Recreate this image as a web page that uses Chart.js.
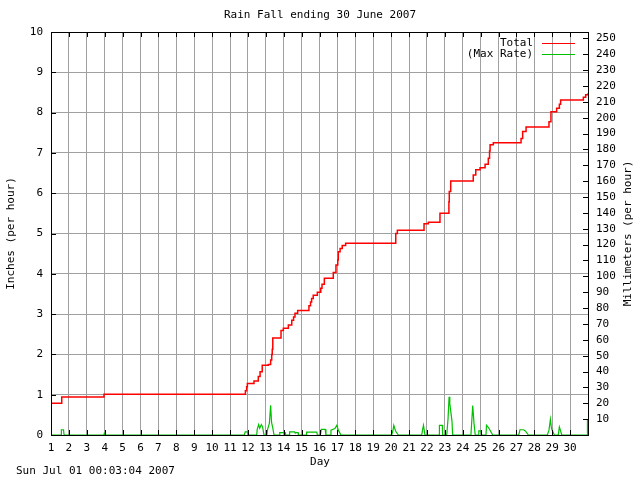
<!DOCTYPE html>
<html>
<head>
<meta charset="utf-8">
<title>Rain Fall</title>
<script src="https://cdn.jsdelivr.net/npm/chart.js@4.4.1/dist/chart.umd.min.js"></script>
<style>
  html, body { margin: 0; padding: 0; background: #fff; }
  #wrap { width: 640px; height: 480px; position: relative; }
</style>
</head>
<body>
<div id="wrap"><canvas id="rainChart"></canvas></div>
<script>
// running total (inches), change points
const totalDays = [1.0, 1.60, 3.96, 11.86, 11.93, 11.97, 12.34, 12.58, 12.68, 12.80, 13.14, 13.27, 13.33, 13.36, 13.39,
  13.85, 13.98, 14.26, 14.45, 14.55, 14.63, 14.78, 15.41, 15.50, 15.56, 15.65, 15.88, 16.07, 16.14, 16.27,
  16.77, 16.92, 17.02, 17.05, 17.15, 17.27, 17.46, 20.26, 20.35, 21.84, 22.08, 22.73, 23.23, 23.25, 23.33,
  24.59, 24.73, 24.97, 25.25, 25.43, 25.50, 25.53, 25.71, 27.26, 27.35, 27.54, 28.82, 28.93, 29.25, 29.40,
  29.47, 30.74, 30.87, 31.0];
const totalInches = [0.79, 0.94, 1.01, 1.10, 1.20, 1.28, 1.34, 1.45, 1.57, 1.73, 1.75, 1.86, 2.00, 2.13, 2.41,
  2.59, 2.65, 2.73, 2.85, 2.93, 3.02, 3.09, 3.21, 3.30, 3.39, 3.47, 3.54, 3.64, 3.74, 3.89,
  4.03, 4.22, 4.34, 4.55, 4.63, 4.70, 4.76, 5.00, 5.08, 5.24, 5.28, 5.50, 5.79, 6.04, 6.30,
  6.45, 6.58, 6.63, 6.72, 6.87, 7.05, 7.20, 7.25, 7.36, 7.53, 7.64, 7.77, 8.02, 8.11, 8.21,
  8.31, 8.38, 8.44, 8.48];

// max rate (inches per hour)
const rateDays = [1.0, 1.56, 1.58, 1.70, 1.73, 3.96, 3.98, 4.02, 4.04, 11.80, 11.85, 11.98, 12.02,
  12.49, 12.52, 12.60, 12.66, 12.75, 12.82, 12.90, 13.06, 13.10, 13.20, 13.27, 13.32, 13.40, 13.46,
  13.75, 13.78, 14.08, 14.10, 14.30, 14.33, 14.60, 14.63, 14.80, 14.82, 15.25, 15.28, 15.85, 15.88,
  16.05, 16.10, 16.32, 16.36, 16.61, 16.64, 16.86, 16.97, 17.05, 17.20,
  20.03, 20.10, 20.15, 20.25, 20.40, 21.71, 21.76, 21.81, 21.89, 22.68, 22.70, 22.86, 22.88,
  23.11, 23.18, 23.24, 23.28, 23.33, 23.40, 23.44, 24.46, 24.49, 24.56, 24.63, 24.70,
  24.87, 24.90, 25.02, 25.06, 25.30, 25.33, 25.45, 25.68, 27.13, 27.20, 27.40, 27.50, 27.67,
  28.73, 28.82, 28.90, 28.96, 29.12, 29.34, 29.40, 29.47, 29.53, 30.95, 30.97, 31.0];
const rateInches = [0, 0, 0.13, 0.13, 0, 0, 0.05, 0.05, 0, 0, 0.08, 0.08, 0,
  0, 0.14, 0.26, 0.17, 0.26, 0.20, 0, 0, 0.14, 0.29, 0.74, 0.32, 0.15, 0,
  0, 0.06, 0.06, 0, 0, 0.08, 0.08, 0.06, 0.06, 0, 0, 0.07, 0.07, 0,
  0, 0.14, 0.14, 0, 0, 0.12, 0.16, 0.24, 0.12, 0,
  0, 0.10, 0.24, 0.10, 0, 0, 0.14, 0.24, 0, 0, 0.24, 0.24, 0,
  0, 0.40, 0.95, 0.78, 0.60, 0.35, 0, 0, 0.22, 0.73, 0.30, 0,
  0, 0.10, 0.10, 0, 0, 0.24, 0.18, 0, 0, 0.13, 0.13, 0.10, 0,
  0, 0.12, 0.39, 0.16, 0, 0, 0.20, 0.10, 0, 0, 0.38, 0.38];

const dayTicks = [1, 2, 3, 4, 5, 6, 7, 8, 9, 10, 11, 12, 13, 14, 15, 16, 17, 18, 19, 20,
  21, 22, 23, 24, 25, 26, 27, 28, 29, 30];
const inchTicks = [0, 1, 2, 3, 4, 5, 6, 7, 8, 9, 10];
const mmTicks = [10, 20, 30, 40, 50, 60, 70, 80, 90, 100, 110, 120, 130, 140, 150, 160, 170, 180,
  190, 200, 210, 220, 230, 240, 250];

const FONT = "'DejaVu Sans Mono', monospace";
const RED = "#ff0000";
const GREEN = "#00c000";

// gnuplot style frame, inward ticks and the texts around the plot
const gnuplotFrame = {
  id: "gnuplotFrame",
  afterDraw(chart) {
    const ctx = chart.ctx;
    const a = chart.chartArea;
    const x = chart.scales.x, y = chart.scales.y, y1 = chart.scales.y1;
    ctx.save();
    ctx.strokeStyle = "#000";
    ctx.lineWidth = 1;
    ctx.beginPath();
    dayTicks.forEach((d) => {
      const px = Math.round(x.getPixelForValue(d)) + 0.5;
      ctx.moveTo(px, a.bottom); ctx.lineTo(px, a.bottom - 5);
      ctx.moveTo(px, a.top); ctx.lineTo(px, a.top + 5);
    });
    inchTicks.forEach((v) => {
      const py = Math.round(y.getPixelForValue(v)) + 0.5;
      ctx.moveTo(a.left, py); ctx.lineTo(a.left + 5, py);
    });
    mmTicks.forEach((v) => {
      const py = Math.round(y1.getPixelForValue(v)) + 0.5;
      ctx.moveTo(a.right, py); ctx.lineTo(a.right - 5, py);
    });
    ctx.stroke();
    ctx.strokeRect(Math.round(a.left) + 0.5, Math.round(a.top) + 0.5,
      Math.round(a.right - a.left), Math.round(a.bottom - a.top));

    ctx.fillStyle = "#000";
    ctx.font = "11px " + FONT;
    ctx.textBaseline = "middle";
    ctx.textAlign = "center";
    ctx.fillText("Rain Fall ending 30 June 2007", 320, 15);
    ctx.fillText("Day", 320, 462);
    ctx.textAlign = "left";
    ctx.fillText("Sun Jul 01 00:03:04 2007", 16, 471);

    ctx.save();
    ctx.translate(11, (a.top + a.bottom) / 2);
    ctx.rotate(-Math.PI / 2);
    ctx.textAlign = "center";
    ctx.fillText("Inches (per hour)", 0, 0);
    ctx.restore();
    ctx.save();
    ctx.translate(628, (a.top + a.bottom) / 2);
    ctx.rotate(-Math.PI / 2);
    ctx.textAlign = "center";
    ctx.fillText("Millimeters (per hour)", 0, 0);
    ctx.restore();

    // key
    const items = [["Total", RED, 43], ["(Max Rate)", GREEN, 54]];
    items.forEach(([label, color, ly]) => {
      ctx.textAlign = "right";
      ctx.fillStyle = "#000";
      ctx.fillText(label, 533, ly);
      ctx.strokeStyle = color;
      ctx.beginPath();
      ctx.moveTo(542, ly + 0.5); ctx.lineTo(575, ly + 0.5);
      ctx.stroke();
    });
    ctx.restore();
  }
};

new Chart(document.getElementById("rainChart"), {
  type: "line",
  data: {
    datasets: [
      {
        label: "Total",
        data: totalDays.map((d, i) => ({ x: d, y: totalInches[i] })),
        borderColor: RED,
        borderWidth: 1.5,
        pointRadius: 0,
        stepped: "before",
        yAxisID: "y",
      },
      {
        label: "(Max Rate)",
        data: rateDays.map((d, i) => ({ x: d, y: rateInches[i] })),
        borderColor: GREEN,
        borderWidth: 1.2,
        pointRadius: 0,
        tension: 0,
        yAxisID: "y",
      },
    ],
  },
  options: {
    responsive: true,
    maintainAspectRatio: false,
    animation: false,
    layout: { padding: { top: 32, left: 0, right: 0, bottom: 0 } },
    plugins: {
      legend: { display: false },
      title: { display: false },
      tooltip: { enabled: false },
    },
    scales: {
      x: {
        type: "linear",
        min: 1,
        max: 31,
        afterBuildTicks: (s) => { s.ticks = dayTicks.map((v) => ({ value: v })); },
        afterFit: (s) => { s.height = 45; },
        grid: { color: "#a0a0a0", lineWidth: 1, drawTicks: false },
        border: { display: false },
        ticks: {
          color: "#000",
          font: { family: FONT, size: 11 },
          padding: 7,
          maxRotation: 0,
          autoSkip: false,
        },
      },
      y: {
        position: "left",
        min: 0,
        max: 10,
        afterBuildTicks: (s) => { s.ticks = inchTicks.map((v) => ({ value: v })); },
        afterFit: (s) => { s.width = 51; },
        grid: { color: "#a0a0a0", lineWidth: 1, drawTicks: false },
        border: { display: false },
        ticks: {
          color: "#000",
          font: { family: FONT, size: 11 },
          padding: 8,
          autoSkip: false,
        },
      },
      y1: {
        position: "right",
        min: 0,
        max: 254,
        afterBuildTicks: (s) => { s.ticks = mmTicks.map((v) => ({ value: v })); },
        afterFit: (s) => { s.width = 52; },
        grid: { display: false, drawTicks: false },
        border: { display: false },
        ticks: {
          color: "#000",
          font: { family: FONT, size: 11 },
          padding: 8,
          autoSkip: false,
        },
      },
    },
  },
  plugins: [gnuplotFrame],
});
</script>
</body>
</html>
